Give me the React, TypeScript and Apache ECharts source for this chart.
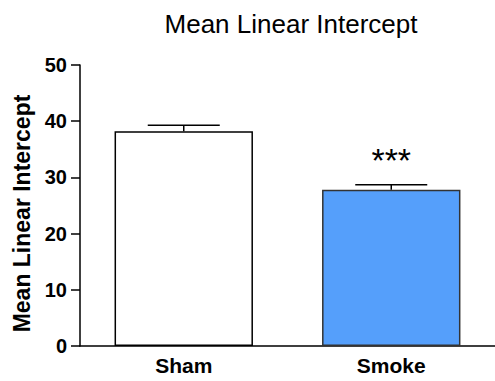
import React, { useEffect, useRef } from "react";
import * as echarts from "echarts";

const categories = ["Sham", "Smoke"];
const means = [38.2, 27.8];
const errors = [1.1, 0.9];
const significance = ["", "***"];
const barColors = ["#ffffff", "#559ffb"];
const barBorders = ["#000000", "#333333"];
const yTicks = [0, 10, 20, 30, 40, 50];

export default function App() {
  const ref = useRef<HTMLDivElement>(null);
  useEffect(() => {
    document.body.style.margin = "0";
    if (!ref.current) return;
    const chart = echarts.init(ref.current, undefined, { renderer: "svg" });
    const font = "'Liberation Sans', Arial, sans-serif";
    chart.setOption({
      animation: false,
      title: {
        text: "Mean Linear Intercept",
        left: 286,
        textAlign: "center",
        top: 6,
        textStyle: { fontFamily: font, fontSize: 26, fontWeight: "normal", color: "#000" },
      },
      grid: { left: 80, top: 65, bottom: 35, right: -10 },
      xAxis: {
        type: "category",
        data: categories,
        axisLine: { lineStyle: { color: "#000", width: 1.5 } },
        axisTick: { alignWithLabel: true, length: 7, lineStyle: { color: "#000", width: 1.5 } },
        axisLabel: { fontFamily: font, fontSize: 21, fontWeight: "bold", color: "#000", margin: 9 },
      },
      yAxis: {
        type: "value",
        min: yTicks[0],
        max: yTicks[yTicks.length - 1],
        interval: 10,
        name: "Mean Linear Intercept",
        nameLocation: "middle",
        nameGap: 46,
        nameTextStyle: { fontFamily: font, fontSize: 23, fontWeight: "bold", color: "#000", padding: [0, 16, 0, 0] },
        axisLine: { show: true, lineStyle: { color: "#000", width: 1.5 } },
        axisTick: { show: true, length: 9, lineStyle: { color: "#000", width: 1.5 } },
        axisLabel: { fontFamily: font, fontSize: 20, fontWeight: "bold", color: "#000", margin: 13 },
        splitLine: { show: false },
      },
      series: [
        {
          type: "bar",
          barWidth: "66.7%",
          data: means.map((v, i) => ({
            value: v,
            itemStyle: { color: barColors[i], borderColor: barBorders[i], borderWidth: 1.5 },
          })),
        },
        {
          type: "custom",
          data: means.map((v, i) => [i, v, errors[i]]),
          z: 5,
          renderItem: (params: any, api: any) => {
            const i = api.value(0);
            const m = api.value(1);
            const e = api.value(2);
            const base = api.coord([i, m]);
            const top = api.coord([i, m + e]);
            const half = 36;
            const children: any[] = [
              { type: "line", shape: { x1: base[0], y1: base[1], x2: top[0], y2: top[1] }, style: { stroke: "#000", lineWidth: 1.5 } },
              { type: "line", shape: { x1: top[0] - half, y1: top[1], x2: top[0] + half, y2: top[1] }, style: { stroke: "#000", lineWidth: 1.5 } },
            ];
            const sig = significance[params.dataIndex];
            if (sig) {
              children.push({
                type: "text",
                x: top[0],
                y: top[1] - 8,
                style: { text: sig, fontFamily: font, fontSize: 34, fill: "#000", align: "center", verticalAlign: "bottom" },
              });
            }
            return { type: "group", children };
          },
        },
      ],
    });
    return () => chart.dispose();
  }, []);
  return <div ref={ref} style={{ width: 495, height: 381 }} />;
}
